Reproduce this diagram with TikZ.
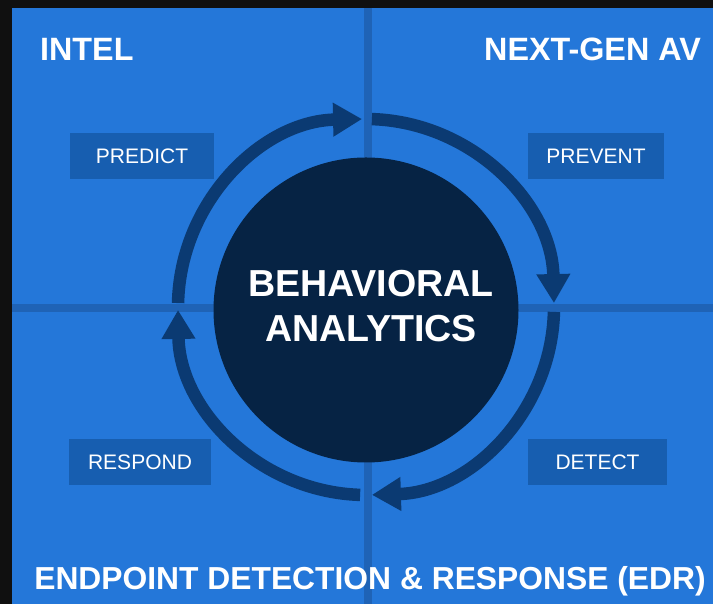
\documentclass[tikz,border=0pt]{standalone}
\usepackage{fontspec}
\setmainfont{Liberation Sans}
\usetikzlibrary{arrows.meta, calc}
\definecolor{backdrop}{HTML}{101010}
\definecolor{panel}{HTML}{2477D9}
\definecolor{seam}{HTML}{1F63B6}
\definecolor{tagbox}{HTML}{175EB0}
\definecolor{ringblue}{HTML}{0B3A72}
\definecolor{corefill}{HTML}{062344}
\tikzset{ring/.style = {draw=ringblue, line width=12.5pt, -{Triangle[length=29pt, width=32pt]}}}
\tikzset{tag/.style = {fill=tagbox, text=white, font=\fontsize{21}{25}\selectfont, minimum height=46pt, inner sep=0pt}}
\tikzset{title/.style = {text=white, font=\bfseries\fontsize{32.3}{36}\selectfont, inner sep=0pt}}
\tikzset{seamline/.style = {draw=seam, line width=8pt}}

\begin{document}
\begin{tikzpicture}[x=1pt, y=1pt]
\fill[backdrop] (0,0) rectangle (713,604);
\useasboundingbox (0,0) rectangle (713,604);
\fill[panel] (12,0) rectangle (713,596);
\coordinate (north) at (368,596);
\coordinate (south) at (368,0);
\coordinate (west) at (12,296);
\coordinate (east) at (713,296);
\draw[seamline] (north) -- (south);
\draw[seamline] (west) -- (east);
\node[circle, fill=corefill, minimum size=305pt, inner sep=0pt] (core) at (366,294) {};
\coordinate (hub) at (366,297);
\coordinate (a1) at ([shift={(178.8:188)}]hub);
\coordinate (a2) at ([shift={(88.2:188)}]hub);
\coordinate (a3) at ([shift={(-1.5:188)}]hub);
\coordinate (a4) at ([shift={(-91.8:188)}]hub);
\draw[ring] (a1) arc[start angle=178.8, end angle=91.2, radius=188];
\draw[ring] (a2) arc[start angle=88.2, end angle=1.2, radius=188];
\draw[ring] (a3) arc[start angle=-1.5, end angle=-88.2, radius=188];
\draw[ring] (a4) arc[start angle=-91.8, end angle=-179.1, radius=188];
\node[title, font=\bfseries\fontsize{37.6}{42}\selectfont, anchor=base] (core1) at (371,307) {BEHAVIORAL};
\node[title, font=\bfseries\fontsize{37.6}{42}\selectfont, anchor=base] (core2) at (371,262) {ANALYTICS};
\node[title, anchor=base west] (intel) at (40,543) {INTEL};
\node[title, anchor=base east] (ngav) at (701,543) {NEXT-GEN AV};
\node[title, font=\bfseries\fontsize{31.8}{36}\selectfont, anchor=base] (edr) at (370,14) {ENDPOINT DETECTION \& RESPONSE (EDR)};
\node[tag, minimum width=144pt] (predict) at (142,448) {PREDICT};
\node[tag, minimum width=136pt] (prevent) at (596,448) {PREVENT};
\node[tag, minimum width=142pt] (respond) at (140,142) {RESPOND};
\node[tag, minimum width=139pt] (detect) at (597.5,142) {DETECT};
\end{tikzpicture}
\end{document}
